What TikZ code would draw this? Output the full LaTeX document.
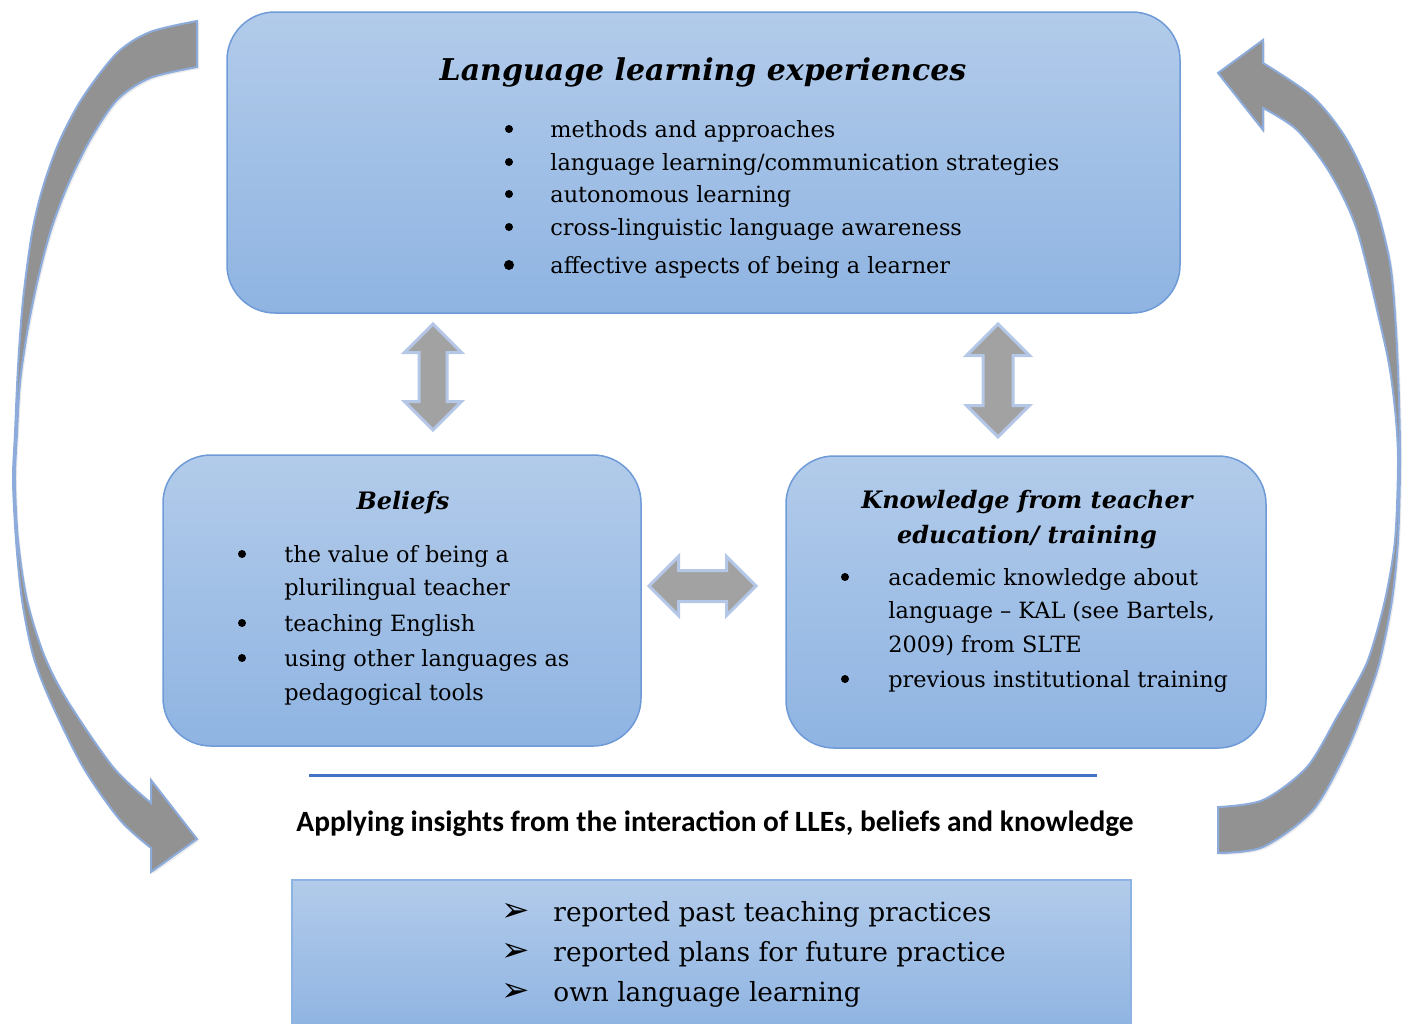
\documentclass[tikz,border=0pt]{standalone}
\usepackage{fontspec}
\setmainfont{DejaVu Serif}
\newfontfamily\headfont{Carlito}
\newfontfamily\symfont{DejaVu Sans}
\usetikzlibrary{shapes.arrows,shadows}
\definecolor{boxtop}{RGB}{178,203,234}
\definecolor{boxbot}{RGB}{143,180,226}
\definecolor{boxline}{RGB}{110,155,215}
\definecolor{plainline}{RGB}{141,179,226}
\definecolor{rulecol}{RGB}{68,114,196}
\definecolor{arrowfill}{RGB}{162,162,162}
\definecolor{arrowline}{RGB}{180,199,231}
\definecolor{bendfill}{RGB}{146,146,146}
\definecolor{bendline}{RGB}{141,172,220}
\begin{document}
\begin{tikzpicture}[x=0.5pt,y=-0.5pt,
  panel/.style={draw=boxline, line width=0.75pt, top color=boxtop, bottom color=boxbot,
                rounded corners=24pt, inner sep=0},
  flatpanel/.style={draw=plainline, line width=0.75pt, top color=boxtop, bottom color=boxbot, inner sep=0},
  body/.style={font=\fontsize{11.2}{13}\selectfont, inner sep=0, anchor=base west},
  dot/.style={circle, fill=black, inner sep=0, minimum size=4pt},
  bigdot/.style={circle, fill=black, inner sep=0, minimum size=5pt},
  bigbody/.style={font=\fontsize{13.2}{15}\selectfont, inner sep=0, anchor=base west},
  pointer/.style={font=\symfont\fontsize{17}{19}\selectfont, inner sep=0, anchor=base},
  heading/.style={font=\fontsize{12}{14}\selectfont\bfseries\itshape, inner sep=0, anchor=base},
  bigheading/.style={heading, font=\fontsize{15}{17}\selectfont\bfseries\itshape},
  linkarrow/.style={double arrow, draw=arrowline, line width=1.5pt, fill=arrowfill,
                    inner xsep=0pt, minimum width=0pt, double arrow tip angle=90},
  bentarrow/.style={draw=bendline, line width=1pt, fill=bendfill, line join=miter,
               drop shadow={opacity=0.15, shadow xshift=1pt, shadow yshift=-1pt}},
]
\useasboundingbox (0,0) rectangle (1407,1023);

% curved feedback arrows: a crescent band that thins to a sliver at its outermost point
\path[bentarrow]
  plot[smooth] coordinates {(197,21) (150,32) (117,53) (83,97) (60,140) (43,187) (32,233)
     (23,300) (18,367) (15,433) (13,480) (16,540) (22,600) (33,655) (50,700) (83,767)
     (120,820) (151,848)}
  -- (151,872) -- (197,839) -- (151,780) -- (151,803)
  -- plot[smooth] coordinates {(151,803) (113,767) (67,700) (44,655) (27,600) (18,540)
     (15,480) (17,433) (20,383) (27,333) (37,283) (50,233) (67,187) (90,140) (117,100)
     (150,78) (197,67)}
  -- cycle;
\path[bentarrow]
  plot[smooth] coordinates {(1263,63) (1313,97) (1347,140) (1373,197) (1390,263) (1396,330)
     (1399,400) (1400,465) (1398,540) (1392,600) (1380,660) (1367,700) (1347,750)
     (1313,810) (1263,847) (1218,853)}
  -- (1218,807)
  -- plot[smooth] coordinates {(1218,807) (1263,800) (1307,767) (1337,717) (1347,700)
     (1368,660) (1385,600) (1395,540) (1398,465) (1396,420) (1390,370) (1380,323)
     (1357,230) (1330,173) (1297,130) (1263,108)}
  -- (1263,130) -- (1218,73) -- (1263,40) -- cycle;

% panels
\node[panel, minimum width=476.5pt, minimum height=150.5pt] (lle) at (703.5,162.5) {};
\node[panel, minimum width=239pt, minimum height=145.5pt] (beliefs) at (402,600.5) {};
\node[panel, minimum width=240pt, minimum height=146pt] (knowledge) at (1026,602) {};
\node[flatpanel, minimum width=419.5pt, minimum height=75pt] (practice) at (711.5,955) {};

% two-way links between the panels
\node[linkarrow, rotate=90, minimum height=53pt, inner ysep=6.25pt,
      double arrow head extend=7.25pt] (lleBel) at (433,377) {};
\node[linkarrow, rotate=90, minimum height=56.5pt, inner ysep=6.75pt,
      double arrow head extend=8.25pt] (lleKnow) at (998,380.5) {};
\node[linkarrow, minimum height=53.5pt, inner ysep=7pt,
      double arrow head extend=7pt] (belKnow) at (702.5,586) {};

% language learning experiences
\node[bigheading] (lleTitle) at (703,80) {Language learning experiences};
\node[dot] (lleB1) at (509,129) {};
\node[dot] (lleB2) at (509,162) {};
\node[dot] (lleB3) at (509,194) {};
\node[dot] (lleB4) at (509,227) {};
\node[bigdot] (lleB5) at (509,265) {};
\node[body] (lleT1) at (550,137) {methods and approaches};
\node[body] (lleT2) at (550,170) {language learning/communication strategies};
\node[body] (lleT3) at (550,202) {autonomous learning};
\node[body] (lleT4) at (550,235) {cross-linguistic language awareness};
\node[body] (lleT5) at (550,273) {affective aspects of being a learner};

% beliefs
\node[heading] (belTitle) at (403,509) {Beliefs};
\node[dot] (belB1) at (242,554) {};
\node[dot] (belB2) at (242,623) {};
\node[dot] (belB3) at (242,658) {};
\node[body] (belT1) at (284,562) {the value of being a};
\node[body] (belT1b) at (284,595) {plurilingual teacher};
\node[body] (belT2) at (284,631) {teaching English};
\node[body] (belT3) at (284,666) {using other languages as};
\node[body] (belT3b) at (284,700) {pedagogical tools};

% knowledge from teacher education
\node[heading] (knowTitleA) at (1027,508) {Knowledge from teacher};
\node[heading] (knowTitleB) at (1027,543) {education/ training};
\node[dot] (knowB1) at (845,577) {};
\node[dot] (knowB2) at (845,679) {};
\node[body] (knowT1) at (888,585) {academic knowledge about};
\node[body] (knowT1b) at (888,618) {language – KAL (see Bartels,};
\node[body] (knowT1c) at (888,652) {2009) from SLTE};
\node[body] (knowT2) at (888,687) {previous institutional training};

% separating rule and caption
\coordinate (ruleL) at (309,775);
\coordinate (ruleR) at (1097,775);
\draw[rulecol, line width=1.5pt] (ruleL) -- (ruleR);
\node[font=\headfont\bfseries\fontsize{14.7}{16}\selectfont, inner sep=0, anchor=base] (caption)
  at (715,831) {Applying insights from the interaction of LLEs, beliefs and knowledge};

% practices
\node[pointer] (prP1) at (516,921) {➢};
\node[pointer] (prP2) at (516,961) {➢};
\node[pointer] (prP3) at (516,1001) {➢};
\node[bigbody] (prT1) at (553,921) {reported past teaching practices};
\node[bigbody] (prT2) at (553,961) {reported plans for future practice};
\node[bigbody] (prT3) at (553,1001) {own language learning};
\end{tikzpicture}
\end{document}
